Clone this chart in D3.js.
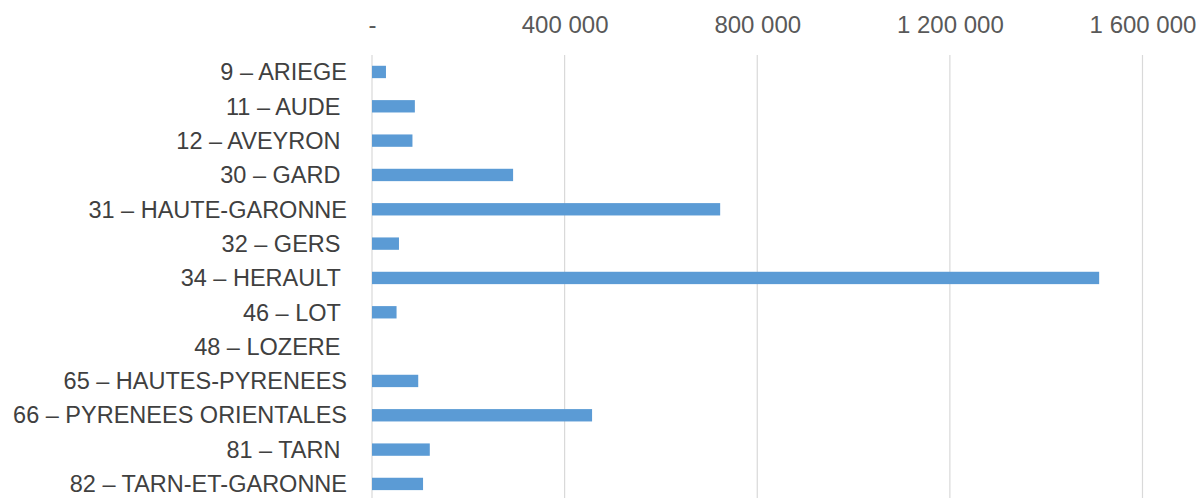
<!DOCTYPE html>
<html><head><meta charset="utf-8">
<script src="https://cdn.jsdelivr.net/npm/d3@7"></script>
<style>
html,body{margin:0;padding:0;background:#fff;}
svg{display:block;}
text{font-family:"Liberation Sans",Arial,sans-serif;white-space:pre;}
</style></head>
<body>
<svg id="chart" width="1200" height="498"></svg>
<script>
const categories = ["9 – ARIEGE","11 – AUDE ","12 – AVEYRON ","30 – GARD ","31 – HAUTE-GARONNE","32 – GERS ","34 – HERAULT ","46 – LOT ","48 – LOZERE ","65 – HAUTES-PYRENEES","66 – PYRENEES ORIENTALES","81 – TARN ","82 – TARN-ET-GARONNE"];
const values = [29000, 89000, 84000, 293000, 723000, 56000, 1510000, 51000, 0, 96000, 457000, 120000, 106000];
const tickValues = [0, 400000, 800000, 1200000, 1600000];
const tickLabels = ["-", "400 000", "800 000", "1 200 000", "1 600 000"];

const svg = d3.select("#chart");
const x = d3.scaleLinear().domain([0, 1600000]).range([372, 1142.5]);
const y = d3.scaleBand().domain(categories).range([54.8, 501.1]).paddingInner(0.64).paddingOuter(0.32);

// gridlines
svg.append("g").selectAll("line").data(tickValues).join("line")
  .attr("x1", d => x(d)).attr("x2", d => x(d))
  .attr("y1", 55).attr("y2", 498)
  .attr("stroke", "#d9d9d9").attr("stroke-width", 1.2);

// top axis labels
const axis = d3.axisTop(x).tickValues(tickValues).tickSize(0)
  .tickFormat((d, i) => tickLabels[i]);
const ag = svg.append("g").attr("transform", "translate(0,28)").call(axis);
ag.select(".domain").remove();
ag.selectAll("text").attr("font-size", 24).attr("fill", "#595959").attr("dy", "0.32em")
  .style("font-family", "'Liberation Sans',Arial,sans-serif");

// bars
svg.append("g").selectAll("rect").data(values).join("rect")
  .attr("x", x(0))
  .attr("y", (d, i) => y(categories[i]))
  .attr("width", d => x(d) - x(0))
  .attr("height", y.bandwidth())
  .attr("fill", "#5b9bd5");

// category labels
svg.append("g").selectAll("text").data(categories).join("text")
  .attr("x", 347)
  .attr("y", d => y(d) + y.bandwidth() / 2)
  .attr("dy", "0.35em")
  .attr("text-anchor", "end")
  .attr("font-size", 23.5)
  .attr("fill", "#404040")
  .text(d => d);
</script>
</body></html>
